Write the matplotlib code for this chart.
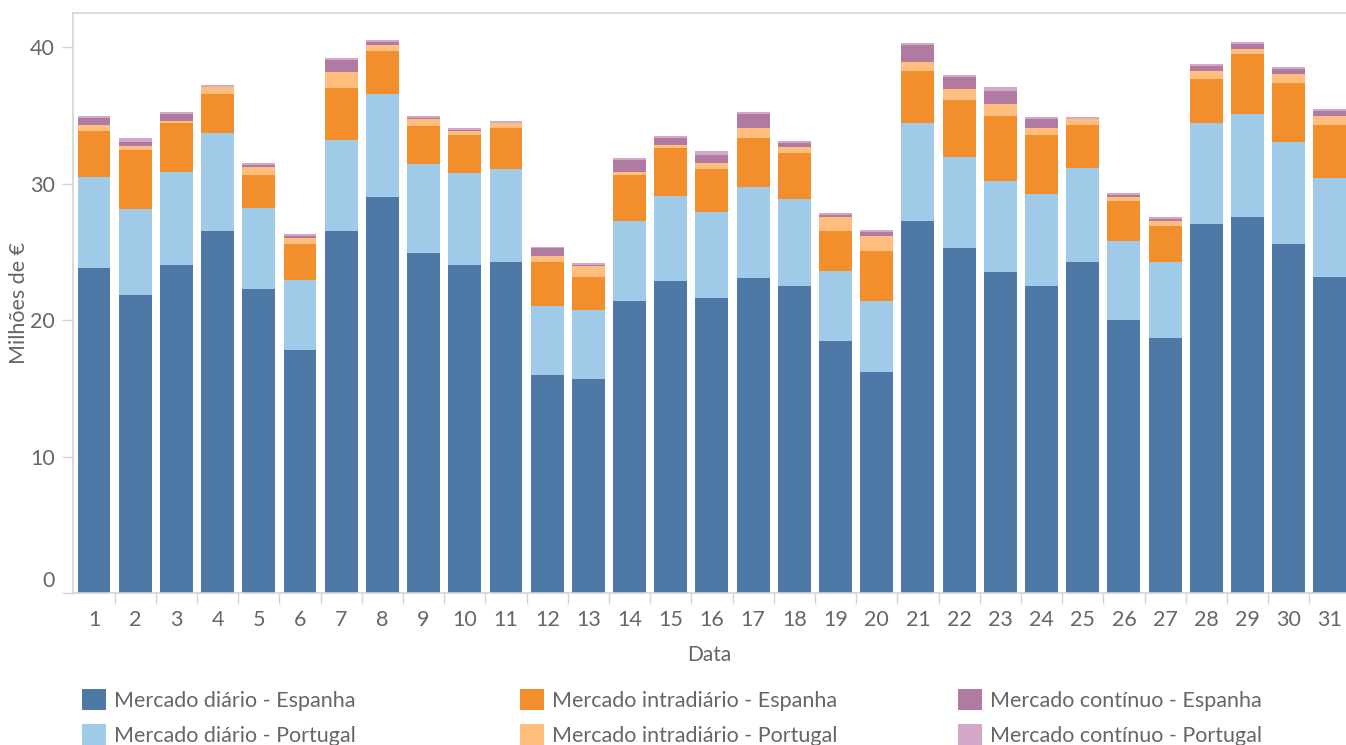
import numpy as np
import matplotlib.pyplot as plt
from matplotlib.patches import Patch
from matplotlib.transforms import ScaledTranslation

plt.rcParams['font.family'] = ['Lato', 'DejaVu Sans']

days = np.arange(1, 32)

# milhões de € por dia, empilhados de baixo para cima
diario_es = [23.8, 21.8, 24.07, 26.5, 22.31, 17.83, 26.5, 28.99, 24.88, 24.0,
             24.29, 16.0, 15.71, 21.36, 22.83, 21.65, 23.05, 22.53, 18.5, 16.22,
             27.23, 25.25, 23.49, 22.53, 24.29, 20.04, 18.72, 27.01, 27.52, 25.54, 23.19]
diario_pt = [6.65, 6.31, 6.76, 7.19, 5.87, 5.07, 6.67, 7.56, 6.53, 6.75,
             6.76, 5.06, 5.06, 5.87, 6.23, 6.24, 6.67, 6.31, 5.13, 5.21,
             7.19, 6.68, 6.68, 6.68, 6.83, 5.72, 5.57, 7.41, 7.56, 7.49, 7.2]
intra_es = [3.37, 4.33, 3.59, 2.86, 2.43, 2.64, 3.82, 3.16, 2.79, 2.79,
            3.01, 3.23, 2.35, 3.38, 3.53, 3.16, 3.6, 3.38, 2.87, 3.6,
            3.82, 4.18, 4.77, 4.33, 3.16, 2.94, 2.57, 3.23, 4.41, 4.33, 3.89]
intra_pt = [0.45, 0.34, 0.15, 0.51, 0.58, 0.44, 1.18, 0.44, 0.52, 0.29,
            0.36, 0.44, 0.81, 0.22, 0.22, 0.44, 0.74, 0.44, 1.02, 1.1,
            0.66, 0.81, 0.88, 0.52, 0.44, 0.29, 0.37, 0.59, 0.36, 0.66, 0.66]
cont_es = [0.51, 0.25, 0.51, 0.02, 0.15, 0.15, 0.88, 0.22, 0.07, 0.1,
           0.03, 0.52, 0.07, 0.88, 0.51, 0.58, 1.02, 0.29, 0.15, 0.29,
           1.25, 0.88, 0.95, 0.66, 0.02, 0.15, 0.15, 0.37, 0.37, 0.37, 0.36]
cont_pt = [0.15, 0.29, 0.15, 0.13, 0.15, 0.15, 0.14, 0.14, 0.15, 0.13,
           0.12, 0.14, 0.15, 0.14, 0.15, 0.30, 0.15, 0.15, 0.15, 0.15,
           0.14, 0.14, 0.29, 0.14, 0.12, 0.14, 0.14, 0.14, 0.15, 0.14, 0.15]

series = [
    ("Mercado diário - Espanha", diario_es, "#4E79A7"),
    ("Mercado diário - Portugal", diario_pt, "#A0CBE8"),
    ("Mercado intradiário - Espanha", intra_es, "#F28E2B"),
    ("Mercado intradiário - Portugal", intra_pt, "#FFBE7D"),
    ("Mercado contínuo - Espanha", cont_es, "#B07AA1"),
    ("Mercado contínuo - Portugal", cont_pt, "#D4A6C8"),
]

W, H = 1346, 745
fig = plt.figure(figsize=(W / 100, H / 100), dpi=100)
ax = fig.add_axes([73 / W, 1 - 593 / H, 1 - 73 / W, (593 - 13) / H])

text_col = "#666666"
line_col = "#d4d4d4"

bottom = np.zeros(len(days))
for name, vals, col in series:
    ax.bar(days, vals, width=0.8, bottom=bottom, color=col, label=name, linewidth=0)
    bottom += np.array(vals)

ax.set_xlim(0.49, 31.39)
ax.set_ylim(0, 42.5)

ax.set_yticks([0, 10, 20, 30, 40])
ax.set_xticks(days)
ax.set_xticks(days[:-1] + 0.5, minor=True)
ax.tick_params(axis='y', length=8, width=1, color=line_col, labelcolor=text_col,
               labelsize=15.5, pad=5)
ax.tick_params(axis='x', which='major', length=0, labelcolor=text_col,
               labelsize=15.5, pad=12)
ax.tick_params(axis='x', which='minor', length=8, width=1, color=line_col)
# the zero label sits just above the baseline
lab0 = ax.get_yticklabels()[0]
lab0.set_transform(lab0.get_transform() + ScaledTranslation(0, 0.14, fig.dpi_scale_trans))

for side in ['left', 'top', 'bottom']:
    ax.spines[side].set_color(line_col)
    ax.spines[side].set_linewidth(1.2)
ax.spines['right'].set_visible(False)

ax.set_ylabel("Milhões de €", color=text_col, fontsize=15.5, labelpad=1)
ax.set_xlabel("Data", color=text_col, fontsize=15, labelpad=11)

handles = [Patch(facecolor=c, label=n) for n, _, c in series]
for i, x0 in enumerate([82, 520, 958]):
    fig.legend(handles=handles[2 * i:2 * i + 2], loc='upper left',
               bbox_to_anchor=(x0 / W, 1 - 689 / H), frameon=False,
               fontsize=15.5, labelcolor=text_col, handlelength=1.1,
               handleheight=1.15, handletextpad=0.4, labelspacing=0.6,
               borderpad=0, borderaxespad=0)

fig.savefig("out.png", dpi=100)
